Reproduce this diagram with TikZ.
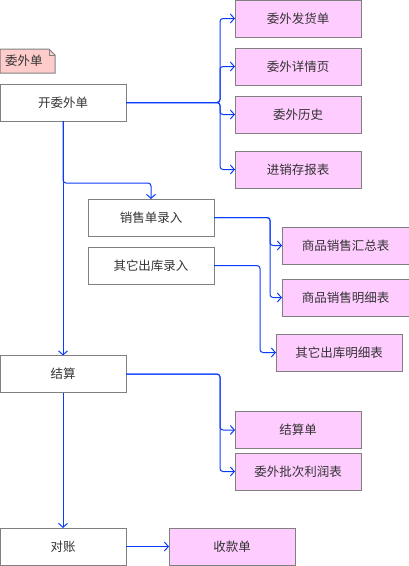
\documentclass[tikz,border=0pt]{standalone}
\usepackage{fontspec}
\setmainfont{Noto Sans CJK SC}
\usetikzlibrary{arrows.meta,calc}
\definecolor{edgeblue}{HTML}{0A3CFF}
\definecolor{boxgray}{HTML}{808080}
\definecolor{pinkfill}{HTML}{FFCCFF}
\definecolor{notefill}{HTML}{FFCCCC}
\definecolor{txt}{HTML}{333333}
\begin{document}
\begin{tikzpicture}[x=1pt,y=-1pt,
  box/.style={draw=boxgray, line width=1pt, minimum width=126pt, minimum height=37pt, inner sep=0pt, outer sep=0pt, text=txt, font=\fontsize{12.5}{14}\selectfont},
  target/.style={box, fill=pinkfill},
  conn/.style={draw=edgeblue, line width=1pt, rounded corners=3pt, -{Straight Barb[length=4pt,width=9pt]}}]
\useasboundingbox (0,0) rectangle (409,566);
% note
\node[inner sep=0pt, outer sep=0pt, minimum width=55pt, minimum height=24pt] (note) at (27.5,61) {};
\filldraw[fill=notefill, draw=boxgray, line width=1pt] (note.north west) -- ($(note.north east)+(-6,0)$) -- ($(note.north east)+(0,6)$) -- (note.south east) -- (note.south west) -- cycle;
\draw[boxgray, line width=0.6pt] ($(note.north east)+(-6,0)$) -- ($(note.north east)+(-6,6)$) -- ($(note.north east)+(0,6)$);
\node[anchor=west, text=txt, font=\fontsize{12.5}{14}\selectfont, inner sep=0pt] (notetext) at ($(note.west)+(5,0)$) {委外单};
% main boxes
\node[box] (kai) at (63,102.5) {开委外单};
\node[target] (t1) at (298,18.5) {委外发货单};
\node[target] (t2) at (298,66.5) {委外详情页};
\node[target] (t3) at (298,114.5) {委外历史};
\node[target] (t4) at (298,169.5) {进销存报表};
\node[box] (sale) at (151,217.5) {销售单录入};
\node[box] (other) at (151,265.5) {其它出库录入};
\node[target, minimum width=127pt] (s1) at (345.5,245.5) {商品销售汇总表};
\node[target, minimum width=127pt] (s2) at (345.5,297.5) {商品销售明细表};
\node[target] (o1) at (339,352.5) {其它出库明细表};
\node[box] (js) at (63,374) {结算};
\node[target] (j1) at (298,430) {结算单};
\node[target] (j2) at (298,471.5) {委外批次利润表};
\node[box] (dz) at (63,546.5) {对账};
\node[target] (sk) at (232,546.5) {收款单};
% connectors
\coordinate (f1) at (220,102.5);
\draw[conn] (kai.east) -- (f1) |- (t1.west);
\draw[conn] (kai.east) -- (f1) |- (t2.west);
\draw[conn] (kai.east) -- (f1) |- (t3.west);
\draw[conn] (kai.east) -- (f1) |- (t4.west);
\coordinate (b1) at (63,183);
\draw[conn] (kai.south) -- (b1) -| (sale.north);
\draw[conn] (kai.south) -- (js.north);
\coordinate (f2) at (270,217.5);
\draw[conn] (sale.east) -- (f2) |- (s1.west);
\draw[conn] (sale.east) -- (f2) |- (s2.west);
\coordinate (f3) at (260,265.5);
\draw[conn] (other.east) -- (f3) |- (o1.west);
\coordinate (f4) at (220,374);
\draw[conn] (js.east) -- (f4) |- (j1.west);
\draw[conn] (js.east) -- (f4) |- (j2.west);
\draw[conn] (js.south) -- (dz.north);
\draw[conn] (dz.east) -- (sk.west);
\end{tikzpicture}
\end{document}
